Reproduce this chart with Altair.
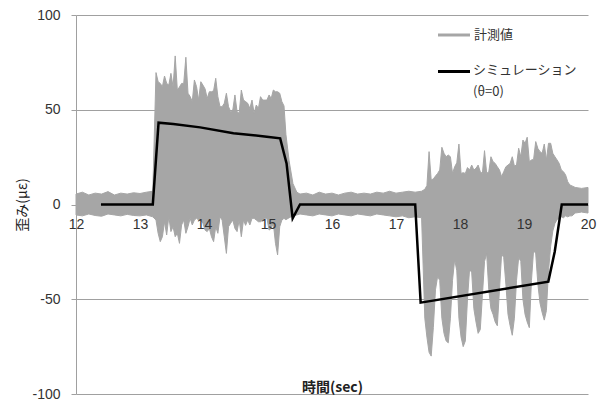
import altair as alt
import numpy as np
import pandas as pd

# ---- measured strain: upper / lower envelope of the recorded signal (με) ----
# quiet stretch before the first load
q1_t = [12.0, 12.1, 12.2, 12.3, 12.4, 12.5, 12.6, 12.7, 12.8, 12.9, 13.0, 13.1, 13.2]
q1_hi = [5.5, 6.5, 5.0, 6.0, 5.5, 6.8, 5.0, 6.0, 5.5, 6.2, 5.8, 6.5, 7.0]
q1_lo = [-5.5, -6.0, -5.0, -5.8, -6.2, -5.0, -5.5, -6.0, -5.2, -5.8, -6.0, -5.5, -6.5]

# first loaded stretch, sampled every 1/30 s from 13.25 s
r1_start = 13.25
r1_hi = [69.6, 64.8, 63.9, 62.2, 67.8, 63.9, 63.0, 69.2, 62.0, 78.4,
         60.4, 62.0, 63.9, 63.9, 77.7, 58.7, 57.0, 54.3, 65.7, 62.2,
         55.1, 64.8, 63.0, 61.0, 56.0, 59.5, 59.5, 60.0, 66.6, 56.9,
         51.6, 51.6, 53.4, 58.7, 51.6, 49.0, 49.9, 57.8, 49.0, 48.1,
         60.4, 55.1, 54.3, 53.4, 50.7, 55.1, 48.1, 52.5, 50.7, 56.9,
         55.1, 55.1, 55.1, 57.8, 56.0, 60.4, 59.5, 59.5, 58.7, 54.3, 52.0]
r1_lo = [-8.2, -15.2, -19.6, -17.0, -9.1, -16.1, -6.4, -14.3, -11.7, -17.0,
         -15.2, -20.5, -10.8, -8.2, -15.2, -11.7, -7.3, -10.8, -8.2, -7.3,
         -8.2, -8.2, -9.9, -13.5, -14.3, -12.6, -17.0, -19.6, -11.7, -15.2,
         -6.4, -8.2, -17.0, -25.8, -11.7, -9.9, -8.2, -12.6, -14.3, -8.2,
         -17.0, -8.2, -11.0, -8.2, -10.8, -7.3, -7.3, -8.2, -9.1, -9.1,
         -8.2, -7.3, -7.3, -13.5, -12.6, -9.9, -20.5, -26.6, -11.7, -8.2, -7.3]

# release after the first load
f1_t = [15.28, 15.33, 15.39, 15.45]
f1_hi = [37.0, 23.0, 11.0, 6.5]
f1_lo = [-8.0, -7.0, -6.0, -5.5]

# quiet stretch between the loads
q2_t = [15.5, 15.6, 15.7, 15.8, 15.9, 16.0, 16.1, 16.2, 16.3, 16.4,
        16.5, 16.6, 16.7, 16.8, 16.9, 17.0, 17.1, 17.2, 17.3, 17.4]
q2_hi = [5.5, 6.0, 5.0, 6.5, 5.5, 6.0, 5.0, 6.0, 6.5, 5.5,
         6.0, 5.5, 6.5, 6.0, 7.0, 6.0, 6.5, 7.0, 6.5, 7.0]
q2_lo = [-5.0, -5.5, -6.0, -5.0, -5.5, -6.0, -5.0, -5.5, -6.0, -5.0,
         -5.5, -6.0, -5.0, -5.5, -6.0, -6.5, -6.0, -7.0, -6.5, -7.0]

# second loaded stretch, sampled every 1/30 s from 17.45 s
r2_start = 17.45
r2_hi = [8.0, 10.0, 27.9, 12.9, 13.5, 15.0, 16.4, 18.2, 30.2, 27.0,
         25.2, 26.1, 25.2, 16.4, 19.9, 22.0, 31.9, 16.4, 16.8, 16.4,
         19.5, 18.2, 20.8, 18.2, 19.1, 20.8, 17.3, 16.4, 28.4, 16.4,
         17.3, 25.2, 22.6, 21.7, 19.9, 18.2, 14.7, 17.3, 19.9, 20.8,
         21.7, 25.2, 20.3, 20.8, 29.7, 25.2, 34.0, 32.3, 35.5, 22.6,
         23.5, 23.8, 33.2, 29.6, 27.9, 27.0, 31.9, 23.5, 32.3, 32.3,
         27.0, 25.2, 23.5, 21.7, 18.2, 17.3, 15.6, 12.0, 10.3, 9.8]
r2_lo = [-60, -70, -78, -80, -65, -45, -38, -40, -60, -68,
         -72, -73, -60, -40, -29, -35, -60, -70, -75, -72,
         -50, -34, -36, -55, -62, -68, -66, -48, -30, -26,
         -45, -55, -58, -62, -64, -45, -26, -28, -42, -58,
         -64, -69, -60, -40, -28, -30, -50, -58, -62, -65,
         -40, -24, -26, -42, -52, -57, -61, -56, -35, -22,
         -14, -10, -8, -7, -6.5, -7, -6, -6.5, -6, -6]

# quiet stretch at the end
q3_t = [19.8, 19.9, 20.0]
q3_hi = [9.0, 8.5, 9.0]
q3_lo = [-4.5, -4.0, -4.5]

# ---- simulated strain (θ=0) ----
sim_t = [12.39, 13.20, 13.29, 13.52, 13.94, 14.46, 14.98, 15.19, 15.29, 15.385,
         15.50, 17.30, 17.385, 19.38, 19.48, 19.59, 20.0]
sim_v = [0, 0, 43.2, 42.5, 40.7, 37.6, 35.8, 34.9, 21.7, -7.3,
         0, 0, -51.8, -40.7, -24.9, 0, 0]

r1_t = list(np.round(r1_start + np.arange(len(r1_hi)) / 30, 4))
r2_t = list(np.round(r2_start + np.arange(len(r2_hi)) / 30, 4))

meas = pd.DataFrame({
    "t": q1_t + r1_t + f1_t + q2_t + r2_t + q3_t,
    "hi": q1_hi + r1_hi + f1_hi + q2_hi + r2_hi + q3_hi,
    "lo": q1_lo + r1_lo + f1_lo + q2_lo + r2_lo + q3_lo,
})
sim = pd.DataFrame({"t": sim_t, "v": sim_v})

x_ticks = [12, 13, 14, 15, 16, 17, 18, 19, 20]
y_ticks = [-100, -50, 0, 50, 100]

GRAY = "#a6a6a6"
GRID = "#a0a0a0"
TXT = "#333333"
JP = "Noto Sans CJK JP"
NUM = "Liberation Sans"

x_scale = alt.Scale(domain=[12, 20], nice=False, zero=False)
y_scale = alt.Scale(domain=[-100, 100], nice=False)

# plain integer labels with an ASCII hyphen for negatives
plain_label = "'' + datum.value"

x_axis = alt.Axis(
    values=x_ticks, offset=-189.5, domain=False, ticks=False, grid=False,
    labelExpr=plain_label,
    labelPadding=13, labelFontSize=14, labelFont=NUM, labelColor=TXT,
    labelFlush=False, labelOverlap=False, zindex=1,
    title="時間(sec)", titleFont=JP, titleFontSize=14, titleFontWeight="bold",
    titleColor="#222222", titleY=182.5, titleBaseline="middle",
)
y_axis = alt.Axis(
    values=y_ticks, grid=True, gridColor=GRID, gridWidth=1,
    domainColor=GRID, tickColor=GRID, tickSize=5,
    labelExpr=plain_label,
    labelPadding=11, labelFontSize=14, labelFont=NUM, labelColor=TXT,
    title="歪み(με)", titleFont=JP, titleFontSize=14, titleFontWeight="normal",
    titleColor="#222222", titleAngle=-90, titleX=-54, titleY=189.5,
    titleAlign="center", titleBaseline="middle",
)

measured = alt.Chart(meas).mark_area(
    color=GRAY, stroke=GRAY, strokeWidth=1, opacity=1
).encode(
    x=alt.X("t:Q", scale=x_scale, axis=x_axis),
    y=alt.Y("hi:Q", scale=y_scale, axis=y_axis),
    y2="lo:Q",
)

simulated = alt.Chart(sim).mark_line(color="black", strokeWidth=2.5).encode(
    x="t:Q",
    y="v:Q",
)

# legend drawn in the upper right of the plot
one = pd.DataFrame({"k": [0]})
leg_meas_line = alt.Chart(one).mark_rule(color=GRAY, strokeWidth=3).encode(
    x=alt.value(362), x2=alt.value(394), y=alt.value(20)
)
leg_sim_line = alt.Chart(one).mark_rule(color="black", strokeWidth=3).encode(
    x=alt.value(362), x2=alt.value(394), y=alt.value(56.5)
)
leg_text_style = dict(align="left", baseline="middle", font=JP, fontSize=13, color=TXT)
leg_meas_text = alt.Chart(one).mark_text(**leg_text_style).encode(
    x=alt.value(398), y=alt.value(20), text=alt.value("計測値")
)
leg_sim_text = alt.Chart(one).mark_text(**leg_text_style).encode(
    x=alt.value(397), y=alt.value(55), text=alt.value("シミュレーション")
)
leg_sim_text2 = alt.Chart(one).mark_text(**leg_text_style).encode(
    x=alt.value(397), y=alt.value(76.5), text=alt.value("(θ=0)")
)

chart = alt.layer(
    measured, simulated,
    leg_meas_line, leg_sim_line, leg_meas_text, leg_sim_text, leg_sim_text2,
).properties(
    width=512,
    height=379,
    autosize=alt.AutoSizeParams(type="none"),
    padding={"left": 76, "top": 15, "right": 16, "bottom": 5},
    background="white",
).configure_view(stroke=None)

chart.save("out.html", embed_options={"renderer": "svg", "actions": False})
